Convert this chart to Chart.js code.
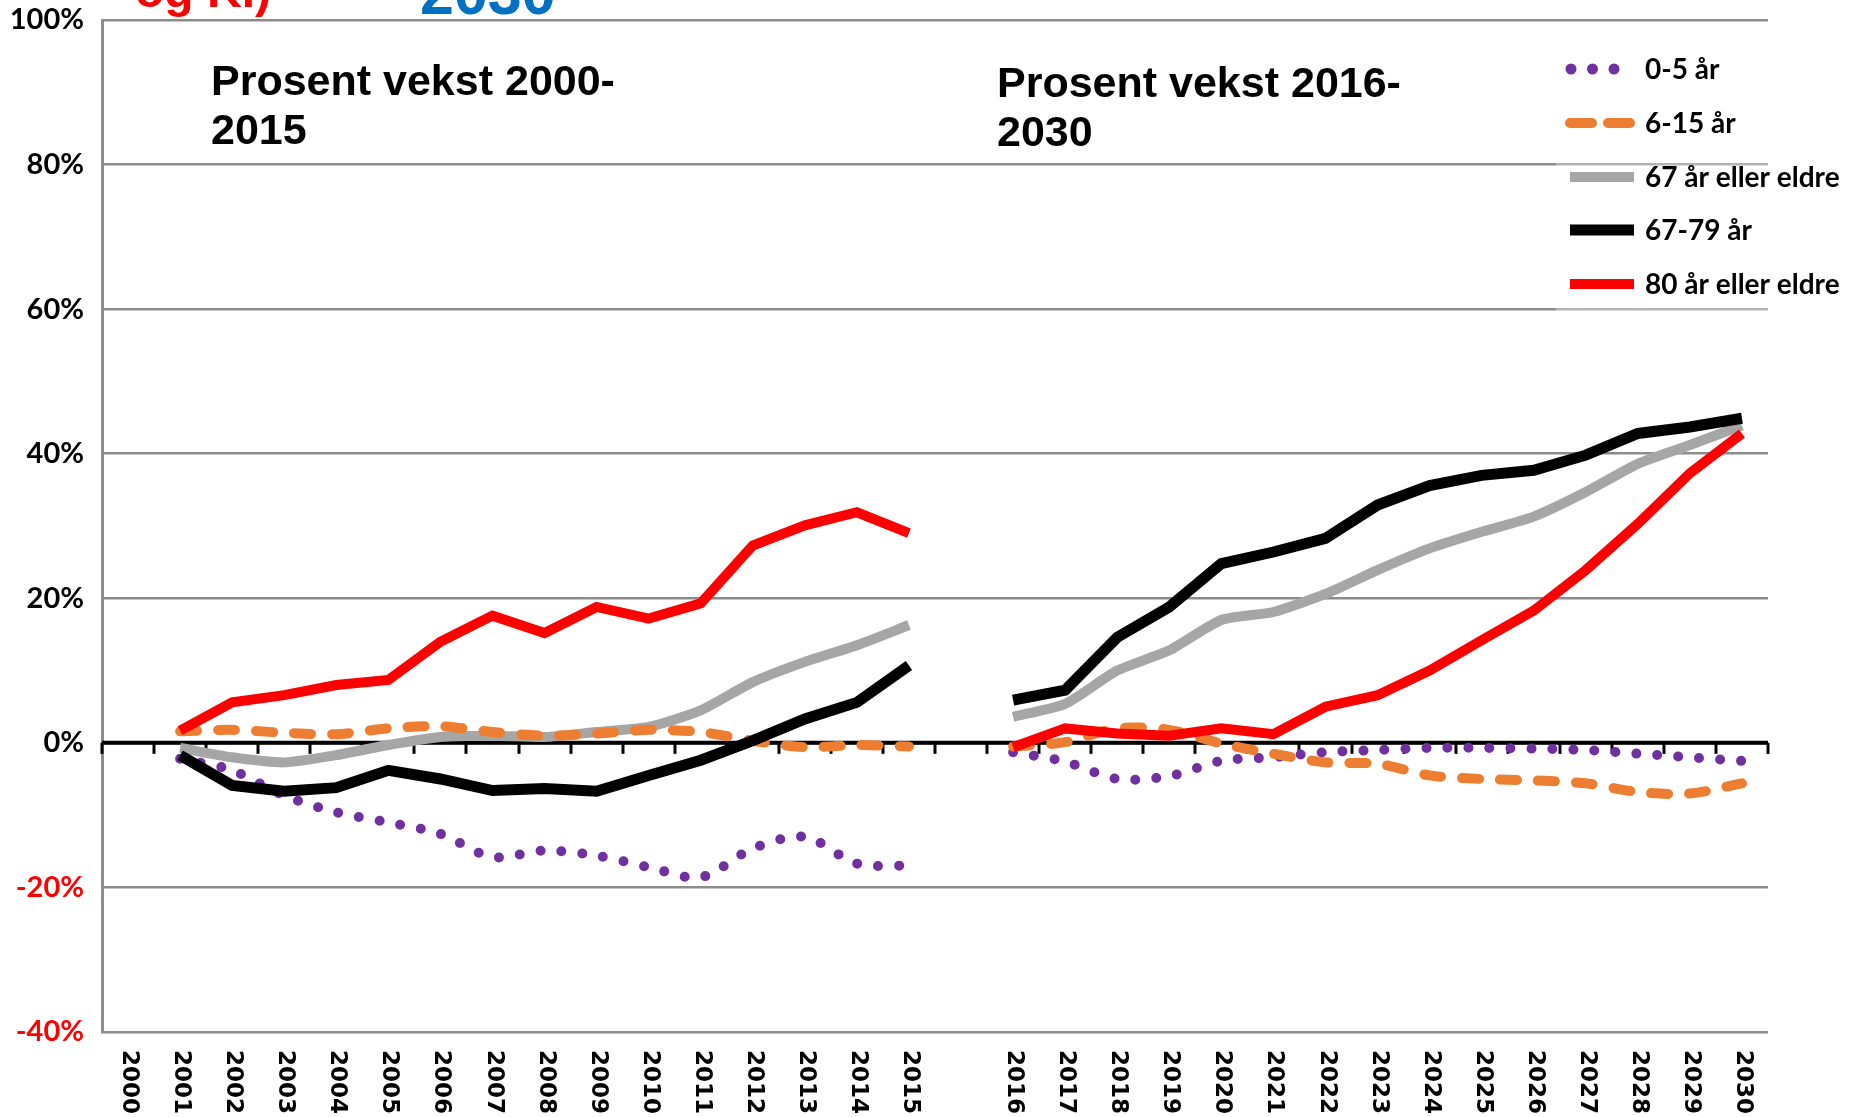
<!DOCTYPE html>
<html>
<head>
<meta charset="utf-8">
<title>Prosent vekst etter aldersgruppe</title>
<script src="https://cdn.jsdelivr.net/npm/chart.js@4/dist/chart.umd.min.js"></script>
<style>
  html, body { margin: 0; padding: 0; background: #ffffff; }
  #wrap { width: 1850px; height: 1117px; position: relative; }
</style>
</head>
<body>
<div id="wrap"><canvas id="chart" width="1850" height="1117"></canvas></div>
<script>
// Years on the x axis; the empty label separates the two periods
const years = ['2000','2001','2002','2003','2004','2005','2006','2007','2008','2009','2010',
  '2011','2012','2013','2014','2015','',
  '2016','2017','2018','2019','2020','2021','2022','2023','2024','2025','2026','2027','2028','2029','2030'];

// Percent growth per age group (2000-2015 and 2016-2030)
const age0to5 = [null, -2.2, -3.8, -7.3, -9.6, -11.0, -12.6, -15.8, -14.9, -15.6, -17.2, -18.6, -14.6, -13.0, -16.7, -17.0,
  null, -1.3, -2.6, -5.0, -4.6, -2.5, -2.0, -1.3, -1.0, -0.7, -0.7, -0.8, -1.0, -1.5, -2.0, -2.5];
const age6to15 = [null, 1.6, 1.8, 1.4, 1.2, 2.0, 2.3, 1.5, 1.0, 1.3, 1.8, 1.5, 0.3, -0.6, -0.3, -0.5,
  null, -0.5, 0.1, 2.0, 1.8, -0.1, -1.5, -2.7, -2.9, -4.5, -5.0, -5.2, -5.6, -6.8, -7.0, -5.6];
const age67plus = [null, -0.7, -2.0, -2.7, -1.7, -0.3, 0.8, 1.0, 0.8, 1.5, 2.2, 4.5, 8.4, 11.2, 13.5, 16.3,
  null, 3.6, 5.4, 10.0, 12.8, 17.0, 18.1, 20.6, 23.9, 26.9, 29.2, 31.3, 34.7, 38.6, 41.2, 43.9];
const age67to79 = [null, -1.7, -5.9, -6.7, -6.2, -3.8, -5.0, -6.6, -6.3, -6.7, -4.5, -2.4, 0.3, 3.3, 5.6, 10.7,
  null, 5.9, 7.3, 14.6, 18.8, 24.8, 26.4, 28.3, 32.9, 35.6, 37.0, 37.7, 39.8, 42.8, 43.7, 44.9];
const age80plus = [null, 1.7, 5.6, 6.6, 8.0, 8.7, 14.0, 17.6, 15.2, 18.8, 17.2, 19.3, 27.3, 30.1, 31.9, 29.0,
  null, -0.6, 2.0, 1.3, 1.0, 2.0, 1.2, 5.0, 6.6, 10.0, 14.2, 18.3, 23.9, 30.3, 37.3, 42.8];

const seriesNames = ['0-5 år', '6-15 år', '67 år eller eldre', '67-79 år', '80 år eller eldre'];
const yTicks = { min: -40, max: 100, step: 20 };
const panelTitles = [['Prosent vekst 2000-', '2015'], ['Prosent vekst 2016-', '2030']];

const PURPLE = '#7030A0', ORANGE = '#ED7D31', GREY = '#A6A6A6', BLACK = '#000000', RED = '#FF0000';

// Zero line with tick marks at every category boundary
const zeroAxis = {
  id: 'zeroAxis',
  beforeDatasetsDraw(chart) {
    const { ctx, chartArea, scales: { x, y } } = chart;
    const y0 = y.getPixelForValue(0);
    ctx.save();
    ctx.strokeStyle = '#000';
    ctx.lineWidth = 4;
    ctx.beginPath();
    ctx.moveTo(chartArea.left, y0);
    ctx.lineTo(chartArea.right, y0);
    ctx.stroke();
    ctx.lineWidth = 3;
    for (let i = 0; i <= years.length; i++) {
      const px = Math.round(x.getPixelForValue(i - 0.5));
      ctx.beginPath();
      ctx.moveTo(px, y0);
      ctx.lineTo(px, y0 + 11);
      ctx.stroke();
    }
    ctx.restore();
  }
};

// Vertical year labels, panel headings and the legend
const decorations = {
  id: 'decorations',
  afterDraw(chart) {
    const { ctx, scales: { x } } = chart;
    ctx.save();

    // heading text running off the top edge
    ctx.textBaseline = 'alphabetic';
    ctx.textAlign = 'left';
    ctx.fillStyle = RED;
    ctx.font = 'bold 48px "Liberation Sans", Arial, sans-serif';
    ctx.fillText('og K.)', 135, 7);
    ctx.fillStyle = '#0070C0';
    ctx.font = 'bold 61px "Liberation Sans", Arial, sans-serif';
    ctx.fillText('2030', 420, 14);

    // year labels, reading top to bottom
    ctx.fillStyle = '#000';
    ctx.font = 'bold 23px "DejaVu Sans", Verdana, sans-serif';
    ctx.textBaseline = 'middle';
    ctx.textAlign = 'left';
    years.forEach((lab, i) => {
      if (!lab) return;
      const px = x.getPixelForValue(i);
      ctx.save();
      ctx.translate(px + 1, 1050);
      ctx.rotate(Math.PI / 2);
      ctx.fillText(lab, 0, 0);
      ctx.restore();
    });

    // panel headings
    ctx.textBaseline = 'alphabetic';
    ctx.font = 'bold 43px "Liberation Sans", Arial, sans-serif';
    ctx.fillText(panelTitles[0][0], 211, 95);
    ctx.fillText(panelTitles[0][1], 211, 144);
    ctx.fillText(panelTitles[1][0], 997, 97);
    ctx.fillText(panelTitles[1][1], 997, 146);

    // legend
    ctx.fillStyle = 'rgba(255,255,255,0.35)';
    ctx.fillRect(1556, 140, 214, 174);
    const rows = [69, 123, 177, 230, 284];
    const sx = 1570, sw = 64;
    // dotted sample
    ctx.fillStyle = PURPLE;
    for (let k = 0; k < 3; k++) {
      ctx.beginPath();
      ctx.arc(sx + 1 + 21.5 * k, rows[0], 5.5, 0, Math.PI * 2);
      ctx.fill();
    }
    // dashed sample
    ctx.strokeStyle = ORANGE;
    ctx.lineWidth = 10;
    ctx.lineCap = 'round';
    ctx.beginPath();
    ctx.moveTo(sx, rows[1]); ctx.lineTo(sx + 22, rows[1]);
    ctx.moveTo(sx + 38, rows[1]); ctx.lineTo(sx + 60, rows[1]);
    ctx.stroke();
    // solid samples
    [[GREY, 10], [BLACK, 11], [RED, 10]].forEach(([c, h], k) => {
      ctx.fillStyle = c;
      ctx.fillRect(sx, rows[k + 2] - h / 2, sw, h);
    });
    ctx.fillStyle = '#000';
    ctx.font = 'bold 28px Lato, "Open Sans", sans-serif';
    ctx.textBaseline = 'middle';
    seriesNames.forEach((n, k) => ctx.fillText(n, 1645, rows[k] + 1));

    ctx.restore();
  }
};

const common = { pointRadius: 0, pointHoverRadius: 0, spanGaps: false, fill: false };

new Chart(document.getElementById('chart'), {
  type: 'line',
  data: {
    labels: years,
    datasets: [
      Object.assign({ label: seriesNames[4], data: age80plus, borderColor: RED, borderWidth: 10,
        borderJoinStyle: 'miter', tension: 0, order: 1 }, common),
      Object.assign({ label: seriesNames[3], data: age67to79, borderColor: BLACK, borderWidth: 11,
        borderJoinStyle: 'miter', tension: 0, order: 2 }, common),
      Object.assign({ label: seriesNames[1], data: age6to15, borderColor: ORANGE, borderWidth: 10,
        borderDash: [17, 21], borderCapStyle: 'round', tension: 0.3, order: 3 }, common),
      Object.assign({ label: seriesNames[2], data: age67plus, borderColor: GREY, borderWidth: 10,
        tension: 0.2, order: 4 }, common),
      Object.assign({ label: seriesNames[0], data: age0to5, borderColor: PURPLE, borderWidth: 10,
        borderDash: [0, 21], borderCapStyle: 'round', tension: 0.3, order: 5 }, common)
    ]
  },
  options: {
    responsive: false,
    animation: false,
    devicePixelRatio: 1,
    layout: { padding: { top: 20, right: 82, left: 0, bottom: 0 } },
    plugins: { legend: { display: false }, tooltip: { enabled: false } },
    scales: {
      x: {
        type: 'category',
        offset: true,
        grid: { display: false },
        border: { display: false },
        ticks: { display: false },
        afterFit(s) { s.height = 85; s.paddingLeft = 0; s.paddingRight = 0; }
      },
      y: {
        min: yTicks.min,
        max: yTicks.max,
        ticks: {
          stepSize: yTicks.step,
          padding: 18,
          callback: v => v + '%',
          color: c => (c.tick && c.tick.value < 0) ? RED : '#000',
          font: { family: 'Lato, "Open Sans", sans-serif', size: 29, weight: 'bold' }
        },
        grid: { color: '#8c8c8c', lineWidth: 2.5, drawTicks: false },
        border: { color: '#8c8c8c', width: 3 },
        afterFit(s) { s.width = 102; s.paddingTop = 0; s.paddingBottom = 0; }
      }
    }
  },
  plugins: [zeroAxis, decorations]
});
</script>
</body>
</html>
